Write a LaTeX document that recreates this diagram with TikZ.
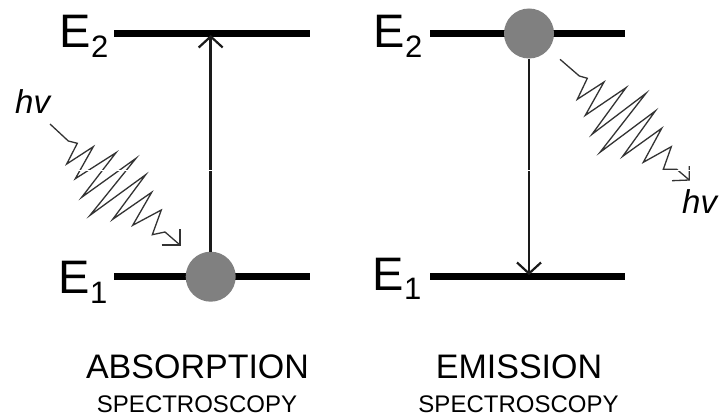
\documentclass[tikz,border=0pt]{standalone}
\usepackage{fontspec}
\setmainfont{Liberation Sans}
\usetikzlibrary{arrows.meta}
\definecolor{ink}{HTML}{1A1A1A}
\definecolor{wave}{HTML}{333333}
\definecolor{ball}{HTML}{808080}
\newcommand{\levelname}[2]{E\raisebox{#2}{\fontsize{31}{31}\selectfont #1}}
\tikzset{
  x=1pt,y=-1pt,
  level/.style={draw=black,line width=6.4pt},
  trans/.style={draw=ink,line width=2.5pt,-{Straight Barb[length=11pt,width=24pt,line width=2.2pt]}},
  photon/.style={draw=wave,line width=1.3pt,line join=miter},
  photonhead/.style={draw=wave,line width=1.3pt},
  particle/.style={circle,fill=ball,draw=none,minimum size=50pt,inner sep=0pt},
  elabel/.style={inner sep=0pt,font=\fontsize{47}{47}\selectfont},
  hvlabel/.style={inner sep=0pt,font=\fontsize{33}{33}\selectfont\itshape},
  bigcap/.style={inner sep=0pt,font=\fontsize{34}{34}\selectfont},
  smallcap/.style={inner sep=0pt,font=\fontsize{24}{24}\selectfont}
}
\begin{document}
\begin{tikzpicture}
\useasboundingbox[fill=white] (0,0) rectangle (720,417);
% levels
\coordinate (L2a) at (114,33.5); \coordinate (L2b) at (310,33.5);
\coordinate (L1a) at (114,276.5); \coordinate (L1b) at (310,276.5);
\coordinate (R2a) at (430,33.5); \coordinate (R2b) at (625,33.5);
\coordinate (R1a) at (430,276.5); \coordinate (R1b) at (625,276.5);
\draw[level] (L2a) -- (L2b);
\draw[level] (L1a) -- (L1b);
\draw[level] (R2a) -- (R2b);
\draw[level] (R1a) -- (R1b);
% particles
\node[particle] (ballL) at (210.7,276.7) {};
\node[particle] (ballR) at (529,33.5) {};
% transitions
\coordinate (topL) at (210.7,35);
\coordinate (botR) at (529,275);
\draw[trans] (ballL) -- (topL);
\draw[trans] (ballR) -- (botR);
% photons
\coordinate (tipL) at (180,245);
\coordinate (tipR) at (689.3,180);
\draw[photon] (50,124) -- (68.3,141) -- (77.3,143.3) -- (66.7,164) -- (93.3,146.7) -- (75.3,178.7) -- (116,152.7) -- (81.7,197.3) -- (136,158.3) -- (90,215.3) -- (145.7,174.7) -- (112.7,219.3) -- (151.7,192.3) -- (132.7,225.3) -- (161.3,210) -- (152.3,234.7) -- (165,232) -- (tipL);
\draw[photonhead] (161.7,245) -- (tipL) -- (180,229.3);
\draw[photon] (560,59.3) -- (579.3,76) -- (587.3,78.3) -- (577.3,99.3) -- (604,82) -- (585.3,115.3) -- (626,87.7) -- (592,134.3) -- (646,93.3) -- (600,152.3) -- (655.3,111) -- (622.7,156.3) -- (661.7,128.3) -- (643.3,162.3) -- (671.3,146.7) -- (663.3,169.3) -- (676.7,169.3) -- (tipR);
\draw[photonhead] (672,180.7) -- (tipR) -- (689.3,166);
% scan line
\draw[white,line width=.7pt] (0,170.5) -- (720,170.5);
% labels
\node[elabel,anchor=base west] (e2l) at (59.5,48) {\levelname{2}{-10pt}};
\node[elabel,anchor=base west] (e1l) at (58.5,293) {\levelname{1}{-10pt}};
\node[elabel,anchor=base west] (e2r) at (373.5,48) {\levelname{2}{-10pt}};
\node[elabel,anchor=base west] (e1r) at (372.5,290) {\levelname{1}{-9pt}};
\node[hvlabel,anchor=base west] (hvl) at (15,114) {hv};
\node[hvlabel,anchor=base west] (hvr) at (682,213) {hv};
\node[bigcap,anchor=base] (absorb) at (197.5,378) {ABSORPTION};
\node[bigcap,anchor=base] (emit) at (519,378) {EMISSION};
\node[smallcap,anchor=base] (specl) at (197,412) {SPECTROSCOPY};
\node[smallcap,anchor=base] (specr) at (518.5,412) {SPECTROSCOPY};
\end{tikzpicture}
\end{document}
